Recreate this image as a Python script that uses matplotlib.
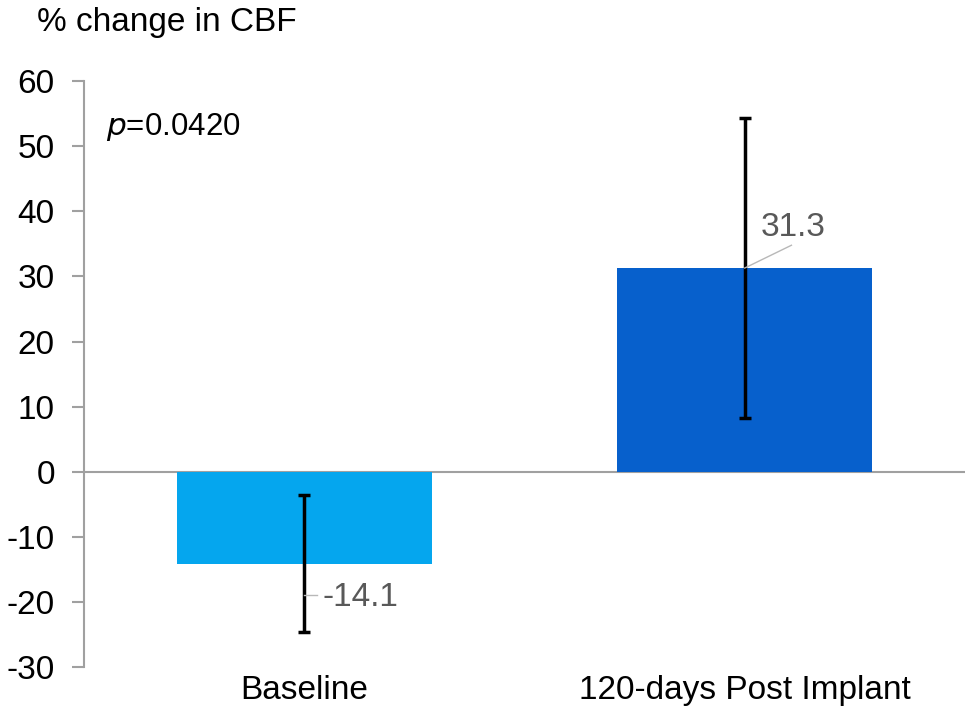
import matplotlib.pyplot as plt
import numpy as np

plt.rcParams['font.family'] = ['Liberation Sans', 'DejaVu Sans']
plt.rcParams['axes.unicode_minus'] = False

# CBF change per time point
categories = ['Baseline', '120-days Post Implant']
values = [-14.1, 31.3]
errors = [10.6, 23.0]
barColors = ['#05A6EE', '#0760CC']
pValue = '0.0420'

fig = plt.figure(figsize=(9.65, 7.07), dpi=100, facecolor='white')
ax = fig.add_axes([0.087, 0.0566, 0.913, 0.8285])

x = np.arange(len(categories))
ax.bar(x, values, width=0.578, color=barColors, zorder=2)
ax.errorbar(x, values, yerr=errors, fmt='none', ecolor='black',
	elinewidth=2.5, capsize=4.5, capthick=2.5, zorder=3)

# zero line
ax.axhline(0, color='#a0a0a0', linewidth=1.5, zorder=1)

# axes formatting
ax.set_xlim(-0.5, 1.5)
ax.set_ylim(-30, 60)
ax.set_yticks(np.arange(-30, 61, 10))
for side in ['top', 'right', 'bottom']:
	ax.spines[side].set_visible(False)
ax.spines['left'].set_color('#a0a0a0')
ax.spines['left'].set_linewidth(1.5)
ax.tick_params(axis='y', direction='out', length=9, width=1.5,
	color='#a0a0a0', labelsize=24, pad=12)
ax.set_xticks(x)
ax.set_xticklabels(categories)
ax.tick_params(axis='x', length=0, labelsize=24, pad=6)

# value labels with leader lines
labelPos = [(0.128, -19.3), (0.11, 37.6)]
leaderEnds = [(0.03, -19.0), (0.106, 34.8)]
leaderStarts = [(0.0, -19.0), (0.0, 31.3)]
for i in range(len(values)):
	lx, ly = labelPos[i]
	ax.text(x[i] + lx, ly, '%.1f' % values[i], fontsize=24,
		color='#595959', ha='center', va='center', zorder=4)
	sx, sy = leaderStarts[i]
	ex, ey = leaderEnds[i]
	ax.plot([x[i] + sx, x[i] + ex], [sy, ey], color='#b8b8b8',
		linewidth=1, zorder=4)

ax.text(-0.45, 53, '$\\it{p}$=' + pValue, fontsize=22.5, ha='left', va='center')
fig.text(0.038, 0.968, '% change in CBF', fontsize=24, ha='left', va='center')

plt.savefig('out.png', dpi=100)
